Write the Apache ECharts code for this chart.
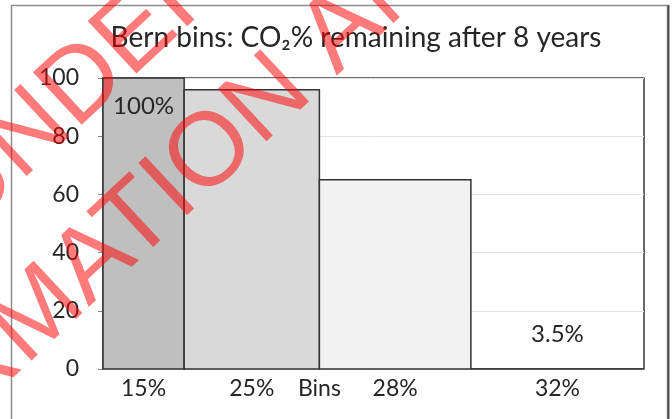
<!DOCTYPE html>
<html>
<head>
<meta charset="utf-8">
<script src="https://cdn.jsdelivr.net/npm/echarts@6/dist/echarts.min.js"></script>
<style>
html,body{margin:0;padding:0;background:#fff;}
#main{width:672px;height:419px;}
</style>
</head>
<body>
<div id="main"></div>
<script>
// bins (width in % of total emissions) and share still remaining after 8 years
var binLabels = ['15%', '25%', '28%', '32%'];
var binWidths = [15, 25, 28, 32];
var remaining = [100, 96, 65, 0];
var barLabels = ['100%', '', '', '3.5%'];
var yTicks = [0, 20, 40, 60, 80, 100];

var fills = ['#bfbfbf', '#d9d9d9', '#f2f2f2', 'rgba(255,255,255,0)'];
var font = 'Lato, "Open Sans", sans-serif';
var wmFont = '104px "Liberation Sans", Arial, sans-serif';
var wmAngle = 43 * Math.PI / 180;

var binStart = [], binCenter = [], acc = 0;
for (var i = 0; i < binWidths.length; i++) {
    binStart[i] = acc;
    binCenter[i] = acc + binWidths[i] / 2;
    acc += binWidths[i];
}
var seriesData = [];
for (var i = 0; i < binWidths.length; i++) {
    seriesData.push([binStart[i], binStart[i] + binWidths[i], remaining[i], i]);
}
var labelValues = binCenter.concat([binStart[2]]);

var myChart = echarts.init(document.getElementById('main'), null, {renderer: 'canvas'});
var option = {
    animation: false,
    textStyle: {fontFamily: font},
    title: {
        text: 'Bern bins: CO\u2082% remaining after 8 years',
        left: 351, top: 19, textAlign: 'center',
        textStyle: {fontFamily: font, fontSize: 28, fontWeight: 'normal', color: '#262626'}
    },
    grid: {
        left: 103, right: 28, top: 78, bottom: 50,
        show: true, borderColor: '#3a3a3a', borderWidth: 1.5, backgroundColor: 'transparent'
    },
    xAxis: {
        type: 'value', min: 0, max: 100,
        splitLine: {show: false},
        axisLine: {show: false},
        axisTick: {show: false},
        axisLabel: {
            customValues: labelValues,
            fontFamily: font, fontSize: 23, color: '#262626', margin: 8,
            formatter: function (v) {
                for (var i = 0; i < binCenter.length; i++) {
                    if (Math.abs(v - binCenter[i]) < 0.01) return binLabels[i];
                }
                return 'Bins';
            }
        }
    },
    yAxis: {
        type: 'value', min: 0, max: 100, interval: 20,
        axisLine: {show: true, lineStyle: {color: '#868686', width: 1}},
        axisTick: {show: true, length: 5, lineStyle: {color: '#868686'}},
        axisLabel: {fontFamily: font, fontSize: 23, color: '#262626', margin: 24,
            formatter: function (v) { return yTicks.indexOf(v) >= 0 ? String(v) : ''; }},
        splitLine: {show: true, lineStyle: {color: '#e3e3e3', width: 1}}
    },
    series: [{
        type: 'custom',
        data: seriesData,
        encode: {x: [0, 1], y: 2},
        renderItem: function (params, api) {
            var idx = api.value(3);
            var p0 = api.coord([api.value(0), 0]);
            var p1 = api.coord([api.value(1), api.value(2)]);
            var children = [{
                type: 'rect',
                shape: {x: p0[0], y: p1[1], width: p1[0] - p0[0], height: p0[1] - p1[1]},
                style: {fill: fills[idx], stroke: '#333', lineWidth: 1.5}
            }];
            var txt = barLabels[idx];
            if (txt) {
                var cx = (p0[0] + p1[0]) / 2;
                var ty = api.value(2) > 50 ? p1[1] + 28 : p1[1] - 35;
                children.push({
                    type: 'text',
                    style: {text: txt, x: cx, y: ty, align: 'center', verticalAlign: 'middle',
                        font: '24px ' + font, fill: '#262626'}
                });
            }
            return {type: 'group', children: children};
        },
        z: 3
    }],
    graphic: [
        {type: 'rect', shape: {x: 11.5, y: 5.5, width: 656, height: 430},
         style: {fill: 'none', stroke: '#8c8c8c', lineWidth: 1.5}, z: 1},
        {type: 'line', shape: {x1: 668.5, y1: 5, x2: 668.5, y2: 419},
         style: {stroke: '#4d4d4d', lineWidth: 2}, z: 1},
        {type: 'text', x: -54, y: 212, rotation: wmAngle, z: 100,
         style: {text: 'UNDER REVIEW', font: wmFont,
             fill: 'rgba(255,0,0,0.52)', align: 'left', verticalAlign: 'middle'}},
        {type: 'text', x: -231, y: 566, rotation: wmAngle, z: 100,
         style: {text: 'INFORMATION AND', font: wmFont,
             fill: 'rgba(255,0,0,0.52)', align: 'left', verticalAlign: 'middle'}}
    ]
};
myChart.setOption(option);
</script>
</body>
</html>
